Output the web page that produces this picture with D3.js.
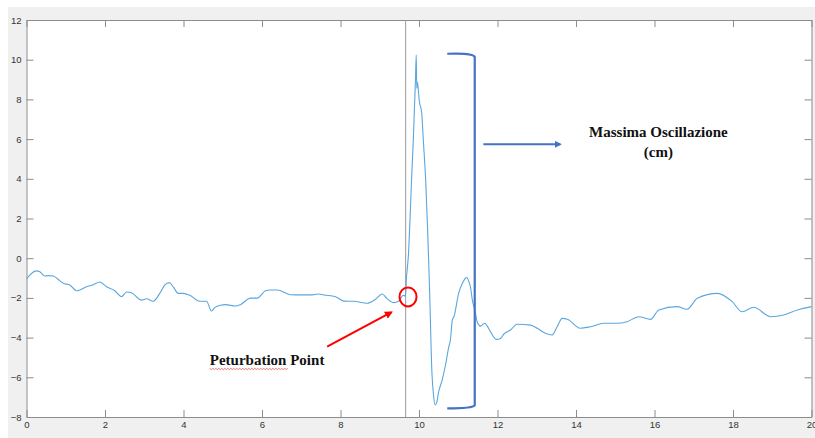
<!DOCTYPE html>
<html>
<head>
<meta charset="utf-8">
<script src="https://cdn.jsdelivr.net/npm/d3@7"></script>
<style>
body{margin:0;background:#fff;}
.tick text{font-family:"Liberation Sans",Arial,sans-serif;font-size:9.5px;fill:#333;}
.note{font-family:"Liberation Serif","Times New Roman",serif;font-weight:bold;font-size:15px;fill:#111;}
</style>
</head>
<body>
<div id="chart"></div>
<script>
// displacement trace (time s, value cm)
var timeVals = [0,0.084,0.255,0.339,0.466,0.553,0.680,0.848,0.935,1.103,1.274,1.358,1.529,1.699,1.868,2.038,2.250,2.420,2.548,2.675,2.930,3.057,3.228,3.396,3.524,3.636,3.738,3.865,3.992,4.161,4.415,4.586,4.713,4.797,4.943,5.07,5.325,5.452,5.707,5.878,6.089,6.217,6.387,6.726,6.981,7.236,7.447,7.575,7.873,8.084,8.339,8.680,8.892,9.062,9.190,9.358,9.485,9.597,9.656,
 9.682,9.69,9.733,9.77,9.817,9.86,9.885,9.91,9.929,9.944,9.96,9.987,10.005,10.07,10.11,10.17,10.22,10.27,10.33,10.37,10.41,10.45,10.50,10.59,10.675,10.76,10.80,10.85,10.89,11.01,11.11,11.18,11.22,11.27,11.31,11.36,11.44,11.48,11.57,11.67,11.74,11.82,11.97,12.08,12.16,12.33,12.50,12.84,13.01,13.22,13.39,13.52,13.65,13.78,14.11,14.37,14.71,15.05,15.30,15.60,15.90,16.11,16.58,16.83,17.09,17.60,17.98,18.23,18.53,18.96,19.29,19.64,20.0];
var dispVals = [-1.05,-0.85,-0.64,-0.68,-0.90,-0.88,-0.90,-1.13,-1.26,-1.35,-1.64,-1.60,-1.44,-1.34,-1.20,-1.44,-1.64,-1.94,-1.70,-1.74,-2.11,-2.04,-2.17,-1.77,-1.35,-1.23,-1.44,-1.77,-1.77,-1.87,-2.17,-2.17,-2.66,-2.49,-2.37,-2.34,-2.41,-2.34,-2.01,-2.01,-1.64,-1.60,-1.60,-1.84,-1.85,-1.85,-1.80,-1.85,-1.94,-2.16,-2.17,-2.27,-2.07,-1.80,-2.04,-2.24,-2.16,-1.87,-1.90,
 -0.93,-0.76,0.25,1.92,4.28,6.2,7.63,8.98,10.24,8.56,8.88,8.37,7.97,7.30,5.95,3.94,1.42,-1.6,-5.80,-6.89,-7.39,-7.29,-6.74,-6.14,-5.38,-4.46,-4.12,-3.11,-2.95,-1.77,-1.25,-1.01,-0.97,-1.18,-1.44,-2.11,-2.76,-3.20,-3.42,-3.28,-3.42,-3.70,-4.09,-4.04,-3.82,-3.62,-3.33,-3.37,-3.53,-3.78,-3.87,-3.45,-3.03,-3.08,-3.53,-3.45,-3.28,-3.28,-3.20,-2.95,-3.08,-2.61,-2.44,-2.57,-2.02,-1.77,-2.19,-2.70,-2.47,-2.95,-2.86,-2.61,-2.44];

var xTicks = [0,2,4,6,8,10,12,14,16,18,20];
var yTicks = [-8,-6,-4,-2,0,2,4,6,8,10,12];

var perturbTime = 9.66;
var bracketX = [10.72,11.42];
var bracketY = [10.3,-7.52];

var W = 815, H = 438;
var margin = {left:26.5, right:3.5, top:20, bottom:21};

var svg = d3.select("#chart").append("svg")
  .attr("width",W).attr("height",H);

// figure background
svg.append("rect").attr("x",8).attr("y",7).attr("width",W-8).attr("height",H-7).attr("fill","#f0f0f0");

var x = d3.scaleLinear().domain([0,20]).range([margin.left, W-margin.right]);
var y = d3.scaleLinear().domain([-8,12]).range([H-margin.bottom, margin.top]);

svg.append("rect")
  .attr("x",x(0)).attr("y",y(12))
  .attr("width",x(20)-x(0)).attr("height",y(-8)-y(12))
  .attr("fill","#fff");

function styleAxis(g){
  g.selectAll(".domain").attr("stroke","#8c8c8c");
  g.selectAll(".tick line").attr("stroke","#8c8c8c");
}

svg.append("g").attr("transform","translate(0,"+y(-8)+")")
  .call(d3.axisBottom(x).tickValues(xTicks).tickSizeInner(-7).tickSizeOuter(0).tickPadding(4))
  .call(styleAxis);
svg.append("g").attr("transform","translate(0,"+y(12)+")")
  .call(d3.axisTop(x).tickValues(xTicks).tickSizeInner(-7).tickSizeOuter(0).tickFormat(""))
  .call(styleAxis);
svg.append("g").attr("transform","translate("+x(0)+",0)")
  .call(d3.axisLeft(y).tickValues(yTicks).tickSizeInner(-7).tickSizeOuter(0).tickPadding(5))
  .call(styleAxis);
svg.append("g").attr("transform","translate("+x(20)+",0)")
  .call(d3.axisRight(y).tickValues(yTicks).tickSizeInner(-7).tickSizeOuter(0).tickFormat(""))
  .call(styleAxis);

// perturbation instant
svg.append("line")
  .attr("x1",x(perturbTime)).attr("x2",x(perturbTime))
  .attr("y1",y(12)).attr("y2",y(-8))
  .attr("stroke","#9a9a9a").attr("stroke-width",1);

var pts = timeVals.map(function(t,i){return [t,dispVals[i]];});
var line = d3.line()
  .x(function(d){return x(d[0]);})
  .y(function(d){return y(d[1]);})
  .curve(d3.curveMonotoneX);

svg.append("path")
  .datum(pts)
  .attr("d",line)
  .attr("fill","none")
  .attr("stroke","#5aa6de")
  .attr("stroke-width",1.1);

// markers
var defs = svg.append("defs");
defs.append("marker").attr("id","arrBlue").attr("viewBox","0 0 10 10")
  .attr("refX",8).attr("refY",5).attr("markerWidth",4).attr("markerHeight",4).attr("orient","auto")
  .append("path").attr("d","M0,0 L10,5 L0,10 z").attr("fill","#4472c4");
defs.append("marker").attr("id","arrRed").attr("viewBox","0 0 10 10")
  .attr("refX",8).attr("refY",5).attr("markerWidth",4).attr("markerHeight",4).attr("orient","auto")
  .append("path").attr("d","M0,0 L10,5 L0,10 z").attr("fill","#ff0000");

// bracket for max oscillation
var bx0 = x(bracketX[0]), bx1 = x(bracketX[1]);
var by0 = y(bracketY[0]), by1 = y(bracketY[1]);
svg.append("path")
  .attr("d","M"+bx0+","+by0+" Q"+(bx1-2)+","+(by0-1)+" "+bx1+","+(by0+3)+
            " L"+bx1+","+(by1-2)+" Q"+(bx1-2)+","+(by1+1)+" "+bx0+","+(by1+1))
  .attr("fill","none").attr("stroke","#4472c4").attr("stroke-width",2.2);

svg.append("line")
  .attr("x1",x(11.64)).attr("x2",x(13.6))
  .attr("y1",y(5.74)).attr("y2",y(5.74))
  .attr("stroke","#4472c4").attr("stroke-width",1.8)
  .attr("marker-end","url(#arrBlue)");

svg.append("text").attr("class","note")
  .attr("x",x(16.1)).attr("y",y(6.1)).attr("text-anchor","middle")
  .text("Massima Oscillazione");
svg.append("text").attr("class","note")
  .attr("x",x(16.1)).attr("y",y(5.1)).attr("text-anchor","middle")
  .text("(cm)");

// perturbation point
svg.append("ellipse")
  .attr("cx",x(9.72)).attr("cy",y(-1.95))
  .attr("rx",8.5).attr("ry",9.5)
  .attr("fill","none").attr("stroke","#ff0000").attr("stroke-width",2);

svg.append("line")
  .attr("x1",x(7.66)).attr("y1",y(-4.46))
  .attr("x2",x(9.3)).attr("y2",y(-2.72))
  .attr("stroke","#ff0000").attr("stroke-width",2)
  .attr("marker-end","url(#arrRed)");

var lbl = svg.append("text").attr("class","note")
  .attr("x",x(4.67)).attr("y",y(-5.4))
  .text("Peturbation Point");

// spellcheck squiggle under the first word
var sq = [];
var sx0 = x(4.67), sx1 = x(6.68), sy = y(-5.4)+3;
for(var px=sx0, k=0; px<=sx1; px+=1.5, k++){
  sq.push([px, sy + (k%2===0?0:1.2)]);
}
svg.append("path")
  .attr("d",d3.line()(sq))
  .attr("fill","none").attr("stroke","#e05050").attr("stroke-width",0.8);
</script>
</body>
</html>
